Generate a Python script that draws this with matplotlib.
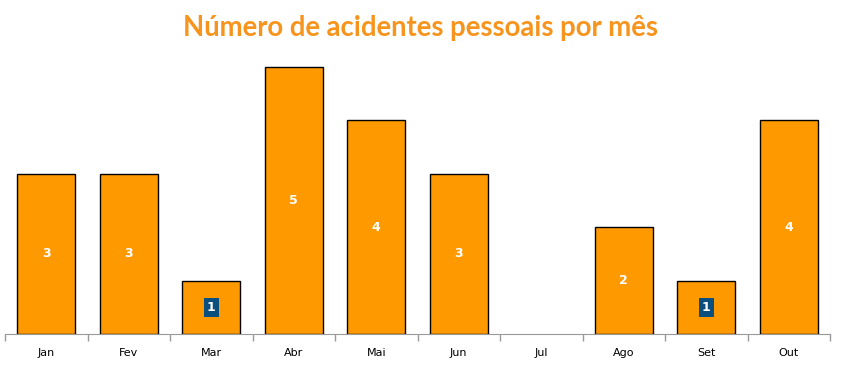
import numpy as np
import matplotlib.pyplot as plt

meses = ['Jan', 'Fev', 'Mar', 'Abr', 'Mai', 'Jun', 'Jul', 'Ago', 'Set', 'Out']
acidentes = [3, 3, 1, 5, 4, 3, 0, 2, 1, 4]

laranja = '#FF9900'
azul = '#0B4F7E'

fig = plt.figure(figsize=(8.41, 3.67), dpi=100)
ax = fig.add_axes([5 / 841, 1 - 334 / 367, 825 / 841, 274 / 367])

x = np.arange(len(meses))
larguras = [1 if v > 0 else 0 for v in acidentes]
bars = ax.bar(x, acidentes, width=0.7, color=laranja, edgecolor='black', linewidth=larguras)

for xi, v in zip(x, acidentes):
    if v == 0:
        continue
    if v == 1:
        ax.text(xi, v / 2, str(v), ha='center', va='center', color='white',
                fontsize=9, fontweight='bold',
                bbox=dict(boxstyle='square,pad=0.25', fc=azul, ec='none'))
    else:
        ax.text(xi, v / 2, str(v), ha='center', va='center', color='white',
                fontsize=9, fontweight='bold')

ax.set_xlim(-0.5, len(meses) - 0.5)
ax.set_ylim(0, 5 * 274 / 267)
ax.set_xticks(x)
ax.set_xticklabels(meses, fontsize=8)
ax.set_xticks(np.arange(len(meses) + 1) - 0.5, minor=True)
ax.tick_params(axis='x', which='major', length=0, pad=10)
ax.tick_params(axis='x', which='minor', length=5, color='#999999', width=1)
ax.set_yticks([])
for s in ['top', 'right', 'left']:
    ax.spines[s].set_visible(False)
ax.spines['bottom'].set_color('#999999')
ax.spines['bottom'].set_zorder(5)

fig.text(0.5, 1 - 28 / 367, 'Número de acidentes pessoais por mês', ha='center', va='center',
         color='#F7941D', fontsize=19.8, fontweight='bold', family='Lato')

fig.savefig('out.png', dpi=100)
